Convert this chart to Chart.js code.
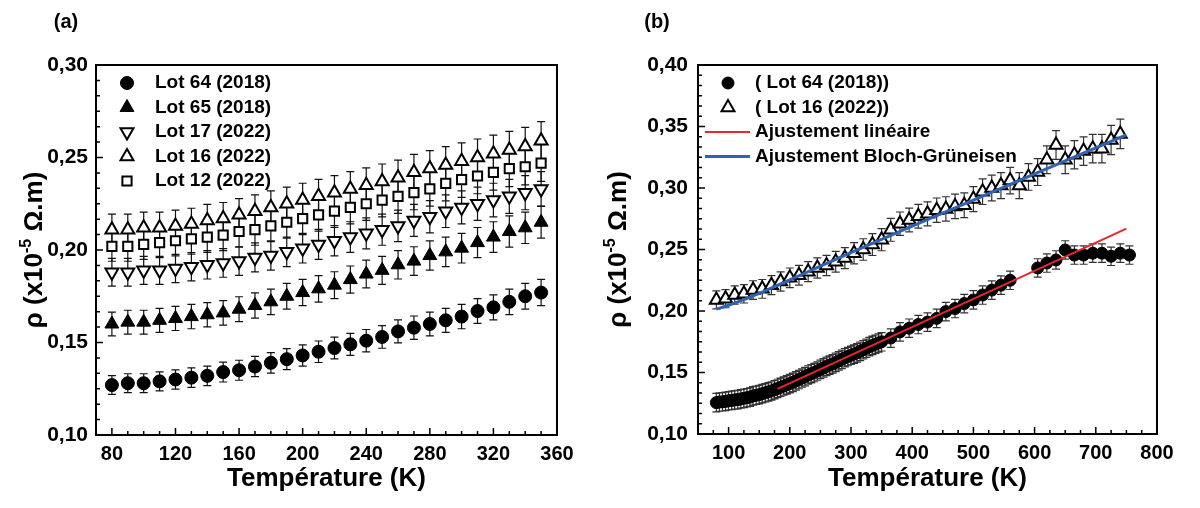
<!DOCTYPE html>
<html>
<head>
<meta charset="utf-8">
<script src="https://cdn.jsdelivr.net/npm/chart.js@4.4.0/dist/chart.umd.min.js"></script>
<style>
  html, body { margin:0; padding:0; background:#fff; }
  #wrap { position:relative; width:1200px; height:508px; }
  .pane { position:absolute; top:0; width:600px; height:508px; }
</style>
</head>
<body>
<div id="wrap">
  <div class="pane" style="left:0"><canvas id="chartA" width="600" height="508"></canvas></div>
  <div class="pane" style="left:600px"><canvas id="chartB" width="600" height="508"></canvas></div>
</div>
<script>
// ---- panel (a) data ----
const tempA  = [80,90,100,110,120,130,140,150,160,170,180,190,200,210,220,230,240,250,260,270,280,290,300,310,320,330,340,350];
const lot64A = [.127,.128,.128,.129,.130,.131,.132,.134,.135,.137,.139,.141,.143,.145,.147,.149,.151,.153,.156,.158,.160,.162,.164,.167,.169,.172,.175,.177];
const lot65A = [.160,.161,.161,.162,.163,.164,.165,.166,.168,.170,.172,.175,.177,.179,.181,.184,.187,.189,.192,.194,.197,.199,.201,.204,.207,.210,.212,.215];
const lot17A = [.188,.188,.189,.189,.190,.191,.192,.193,.194,.196,.197,.199,.201,.203,.205,.207,.209,.211,.213,.216,.218,.221,.223,.225,.227,.229,.231,.233];
const lot16A = [.211,.211,.212,.212,.213,.214,.216,.217,.219,.221,.223,.225,.227,.229,.231,.233,.235,.237,.239,.242,.244,.246,.248,.250,.252,.254,.256,.259];
const lot12A = [.202,.202,.203,.204,.205,.206,.207,.208,.210,.211,.213,.215,.217,.219,.221,.223,.225,.227,.229,.231,.233,.236,.238,.240,.242,.244,.245,.247];
const labelsA = ['Lot 64 (2018)','Lot 65 (2018)','Lot 17 (2022)','Lot 16 (2022)','Lot 12 (2022)'];
const errRelA = 0.04;

// ---- panel (b) data ----
const tempLot64B = [80,85,90,95,100,105,110,115,120,125,130,135,140,145,150,155,160,165,170,175,180,185,190,195,200,
  205,210,215,220,225,230,235,240,245,250,255,260,265,270,275,280,285,290,295,300,305,310,315,320,325,330,335,340,345,350,
  365,380,395,410,425,440,455,470,485,500,515,530,545,560,
  605,620,635,650,665,680,695,710,725,740,755];
const lot64B = [.1255,.126,.1262,.1265,.127,.1273,.1277,.128,.1285,.129,.1295,.130,.131,.1315,.132,.1328,.1335,.1343,.135,.136,.137,.138,.139,.140,.141,
  .142,.1432,.1443,.1455,.1467,.148,.149,.150,.1512,.1525,.1537,.155,.156,.157,.1582,.1595,.1607,.162,.163,.164,.165,.166,.1672,.1685,.1697,.171,.172,.173,.174,.175,
  .178,.183,.186,.189,.191,.194,.1995,.202,.206,.209,.213,.217,.221,.225,
  .235,.239,.2415,.2496,.2455,.2455,.247,.247,.2445,.247,.2455];
const tempLot16B = [80,95,110,125,140,155,170,185,200,215,230,245,260,275,290,305,320,335,350,365,380,395,410,425,440,455,470,485,500,515,530,545,560,575,590,605,620,635,650,665,680,695,710,725,740];
const lot16B = [.209,.210,.213,.214,.217,.218,.221,.224,.227,.229,.232,.235,.237,.240,.243,.247,.250,.254,.258,.266,.271,.274,.277,.279,.282,.283,.285,.286,.291,.297,.300,.302,.306,.302,.309,.313,.323,.335,.323,.327,.330,.332,.332,.339,.344];
const fitLinT   = [180, 750];
const fitLinRho = [.1367, .267];
const fitBGT    = [80,100,125,150,175,200,250,300,350,400,450,500,550,600,650,700,750];
const fitBGRho  = [.2015,.2047,.2092,.2143,.2198,.2253,.2365,.2475,.2583,.269,.2796,.2902,.3008,.3114,.322,.3326,.3432];
const labelsB = ['( Lot 64 (2018))','( Lot 16 (2022))','Ajustement linéaire','Ajustement Bloch-Grüneisen'];
const errAbs64B = 0.0075;
const errRel16B = 0.035;

const FONT = '"Liberation Sans", Arial, Helvetica, sans-serif';
Chart.defaults.font.family = FONT;
Chart.defaults.font.weight = 'bold';
Chart.defaults.color = '#000';

const pts = (xs, ys) => xs.map((x, i) => ({ x, y: ys[i] }));
const comma = v => Number(v).toFixed(2).replace('.', ',');

// error bars under the markers
const errorBars = {
  id: 'errorBars',
  beforeDatasetsDraw(chart) {
    const ctx = chart.ctx, ys = chart.scales.y;
    chart.data.datasets.forEach((ds, i) => {
      if (!ds.errRel && !ds.errAbs) return;
      const meta = chart.getDatasetMeta(i);
      ctx.save();
      ctx.strokeStyle = ds.errColor || '#111';
      ctx.lineWidth = 1.2;
      ctx.beginPath();
      meta.data.forEach((pt, j) => {
        const v = ds.data[j].y;
        const e = ds.errAbs || v * ds.errRel;
        const y1 = ys.getPixelForValue(v + e), y2 = ys.getPixelForValue(v - e);
        ctx.moveTo(pt.x, y1); ctx.lineTo(pt.x, y2);
        ctx.moveTo(pt.x - 4, y1); ctx.lineTo(pt.x + 4, y1);
        ctx.moveTo(pt.x - 4, y2); ctx.lineTo(pt.x + 4, y2);
      });
      ctx.stroke();
      ctx.restore();
    });
  }
};

function drawYTitle(ctx, cx, cy) {
  const big = 'bold 26px ' + FONT, small = 'bold 16px ' + FONT;
  const parts = [['ρ (x10', big, 0], ['-5', small, -11], [' Ω.m)', big, 0]];
  ctx.save();
  ctx.translate(cx, cy);
  ctx.rotate(-Math.PI / 2);
  ctx.fillStyle = '#000';
  ctx.textBaseline = 'alphabetic';
  let w = 0;
  parts.forEach(p => { ctx.font = p[1]; w += ctx.measureText(p[0]).width; });
  let x = -w / 2;
  parts.forEach(p => { ctx.font = p[1]; ctx.fillText(p[0], x, 9 + p[2]); x += ctx.measureText(p[0]).width; });
  ctx.restore();
}

function isMajor(v, base, step) {
  const r = (v - base) / step;
  return Math.abs(r - Math.round(r)) < 1e-6;
}

function makeFrame(cfg) {
  return {
    id: 'frame',
    afterDraw(chart) {
      const { ctx, chartArea: a, scales: { x, y } } = chart;
      ctx.save();
      // inward ticks on bottom and left axes
      ctx.strokeStyle = '#000';
      ctx.lineWidth = 1.5;
      ctx.beginPath();
      for (let k = 0; ; k++) {
        const v = cfg.xStart + k * cfg.xMinor;
        if (v > x.max + 1e-9) break;
        const px = x.getPixelForValue(v);
        const len = isMajor(v, cfg.xBase, cfg.xMajor) ? 7 : 4;
        ctx.moveTo(px, a.bottom); ctx.lineTo(px, a.bottom - len);
      }
      for (let k = 0; ; k++) {
        const v = y.min + k * cfg.yMinor;
        if (v > y.max + 1e-9) break;
        const py = y.getPixelForValue(v);
        const len = isMajor(v, y.min, cfg.yMajor) ? 7 : 4;
        ctx.moveTo(a.left, py); ctx.lineTo(a.left + len, py);
      }
      ctx.stroke();
      // box
      ctx.lineWidth = 2;
      ctx.strokeRect(a.left, a.top, a.right - a.left, a.bottom - a.top);

      // legend
      ctx.font = 'bold 19px ' + FONT;
      ctx.textBaseline = 'middle';
      ctx.textAlign = 'left';
      cfg.legend.forEach((it, i) => {
        const ds = chart.data.datasets[it.ds];
        const ly = cfg.legendY + i * cfg.legendDy;
        if (ds.showLine) {
          ctx.strokeStyle = ds.borderColor;
          ctx.lineWidth = ds.borderWidth;
          ctx.beginPath();
          ctx.moveTo(cfg.lineX0, ly); ctx.lineTo(cfg.lineX1, ly);
          ctx.stroke();
        } else {
          ctx.fillStyle = ds.backgroundColor;
          ctx.strokeStyle = ds.borderColor;
          ctx.lineWidth = ds.borderWidth;
          Chart.helpers.drawPoint(ctx, {
            pointStyle: ds.pointStyle, rotation: ds.pointRotation || 0,
            radius: ds.pointRadius, borderWidth: ds.borderWidth
          }, cfg.markerX, ly);
        }
        ctx.fillStyle = '#000';
        ctx.fillText(ds.label, cfg.textX, ly);
      });

      drawYTitle(ctx, cfg.yTitleX, (a.top + a.bottom) / 2);

      ctx.font = 'bold 20px ' + FONT;
      ctx.textAlign = 'center';
      ctx.fillStyle = '#000';
      ctx.fillText(cfg.panel, cfg.panelX, 22);
      ctx.restore();
    }
  };
}

function axes(xMin, xMax, xStep, yMax, yWidth, xHeight, yPad) {
  return {
    x: {
      type: 'linear', min: xMin, max: xMax, position: 'bottom',
      grid: { display: false, drawTicks: false }, border: { display: false },
      ticks: { stepSize: xStep, includeBounds: false, autoSkip: false, maxRotation: 0, padding: 7,
               font: { size: 20, weight: 'bold' }, color: '#000' },
      title: { display: true, text: 'Température (K)', color: '#000',
               font: { size: 26, weight: 'bold' }, padding: { top: 0, bottom: 14 } },
      afterFit(s) { s.height = xHeight; }
    },
    y: {
      type: 'linear', min: 0.1, max: yMax,
      grid: { display: false, drawTicks: false }, border: { display: false },
      ticks: { stepSize: 0.05, autoSkip: false, padding: yPad, callback: comma,
               font: { size: 21, weight: 'bold' }, color: '#000' },
      afterFit(s) { s.width = yWidth; }
    }
  };
}

const marker = (label, data, style, filled, radius, extra) => Object.assign({
  label, data, pointStyle: style, pointRadius: radius,
  backgroundColor: filled ? '#000' : '#fff', borderColor: '#000', borderWidth: filled ? 1 : 2,
  showLine: false
}, extra || {});

new Chart(document.getElementById('chartA'), {
  type: 'scatter',
  data: {
    datasets: [
      marker(labelsA[0], pts(tempA, lot64A), 'circle', true, 6.5, { errRel: errRelA }),
      marker(labelsA[1], pts(tempA, lot65A), 'triangle', true, 8, { errRel: errRelA }),
      marker(labelsA[2], pts(tempA, lot17A), 'triangle', false, 7.5, { errRel: errRelA, pointRotation: 180 }),
      marker(labelsA[3], pts(tempA, lot16A), 'triangle', false, 7.5, { errRel: errRelA }),
      marker(labelsA[4], pts(tempA, lot12A), 'rect', false, 6.5, { errRel: errRelA })
    ]
  },
  options: {
    responsive: false, animation: false, events: [],
    layout: { padding: { left: 0, right: 43, top: 65, bottom: 0 } },
    plugins: { legend: { display: false }, tooltip: { enabled: false } },
    scales: axes(70, 360, 40, 0.3, 96, 73, 8)
  },
  plugins: [errorBars, makeFrame({
    xStart: 70, xMinor: 10, xBase: 80, xMajor: 40, yMinor: 0.05 / 6, yMajor: 0.05,
    legend: [0,1,2,3,4].map(ds => ({ ds })), legendY: 83, legendDy: 24.5,
    markerX: 127, textX: 155, lineX0: 105, lineX1: 150,
    yTitleX: 33, panel: '(a)', panelX: 66
  })]
});

new Chart(document.getElementById('chartB'), {
  type: 'scatter',
  data: {
    datasets: [
      marker(labelsB[0], pts(tempLot64B, lot64B), 'circle', true, 6, { errAbs: errAbs64B, errColor: '#333', order: 1 }),
      marker(labelsB[1], pts(tempLot16B, lot16B), 'triangle', false, 7.5, { errRel: errRel16B, errColor: '#333', order: 1 }),
      { label: labelsB[2], data: pts(fitLinT, fitLinRho), showLine: true, pointRadius: 0,
        borderColor: '#e8262b', borderWidth: 2, order: 0 },
      { label: labelsB[3], data: pts(fitBGT, fitBGRho), showLine: true, pointRadius: 0,
        borderColor: '#2f62b0', borderWidth: 3, cubicInterpolationMode: 'monotone', order: 0 }
    ]
  },
  options: {
    responsive: false, animation: false, events: [],
    layout: { padding: { left: 0, right: 43, top: 65, bottom: 0 } },
    plugins: { legend: { display: false }, tooltip: { enabled: false } },
    scales: axes(50, 800, 100, 0.4, 98, 74, 10)
  },
  plugins: [errorBars, makeFrame({
    xStart: 50, xMinor: 25, xBase: 100, xMajor: 100, yMinor: 0.05 / 6, yMajor: 0.05,
    legend: [0,1,2,3].map(ds => ({ ds })), legendY: 83, legendDy: 24.5,
    markerX: 128, textX: 155, lineX0: 105, lineX1: 150,
    yTitleX: 17, panel: '(b)', panelX: 57
  })]
});
</script>
</body>
</html>
